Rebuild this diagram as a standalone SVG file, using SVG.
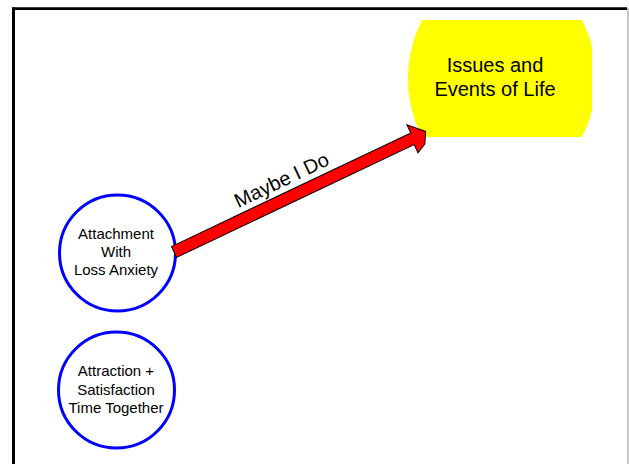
<svg xmlns="http://www.w3.org/2000/svg" width="629" height="464" viewBox="0 0 629 464">
  <style>
    .lbl { font-family: "Liberation Sans", Arial, sans-serif; fill: #000; text-anchor: middle; }
    .circ { fill: #fff; stroke: #0000ff; stroke-width: 3; }
  </style>
  <defs>
    <clipPath id="yclip">
      <rect x="400" y="20" width="192" height="117"/>
    </clipPath>
  </defs>
  <rect x="0" y="0" width="629" height="464" fill="#fff"/>
  <g id="frame">
    <line x1="13.5" y1="7.5" x2="13.5" y2="464" stroke="#000" stroke-width="3"/>
    <line x1="12" y1="8.7" x2="627" y2="8.7" stroke="#000" stroke-width="2.7"/>
    <line x1="628" y1="8" x2="628" y2="464" stroke="#c8c8c8" stroke-width="2"/>
  </g>
  <g id="node-issues">
    <ellipse cx="502" cy="78.5" rx="94" ry="111" fill="#ffff00" clip-path="url(#yclip)"/>
    <text class="lbl" x="495" y="72" font-size="20">Issues and</text>
    <text class="lbl" x="495" y="96" font-size="20">Events of Life</text>
  </g>
  <g id="node-attachment">
    <circle class="circ" cx="117.5" cy="253" r="58"/>
    <text class="lbl" x="116" y="239" font-size="15">Attachment</text>
    <text class="lbl" x="116" y="257" font-size="15">With</text>
    <text class="lbl" x="116" y="275" font-size="15">Loss Anxiety</text>
  </g>
  <g id="node-attraction">
    <circle class="circ" cx="116.5" cy="390" r="58"/>
    <text class="lbl" x="116" y="376" font-size="15">Attraction +</text>
    <text class="lbl" x="116" y="395" font-size="15">Satisfaction</text>
    <text class="lbl" x="116" y="413" font-size="15">Time Together</text>
  </g>
  <g id="connectors">
    <g transform="translate(174,252) rotate(-25.4)">
      <polygon points="0,-6 265,-6 265,-15 279,-1 273,10 263,15 263,6 0,6" fill="#ff0000" stroke="#000" stroke-width="1" stroke-linejoin="miter"/>
      <text class="lbl" x="128" y="-12" font-size="20">Maybe I Do</text>
    </g>
  </g>
</svg>
